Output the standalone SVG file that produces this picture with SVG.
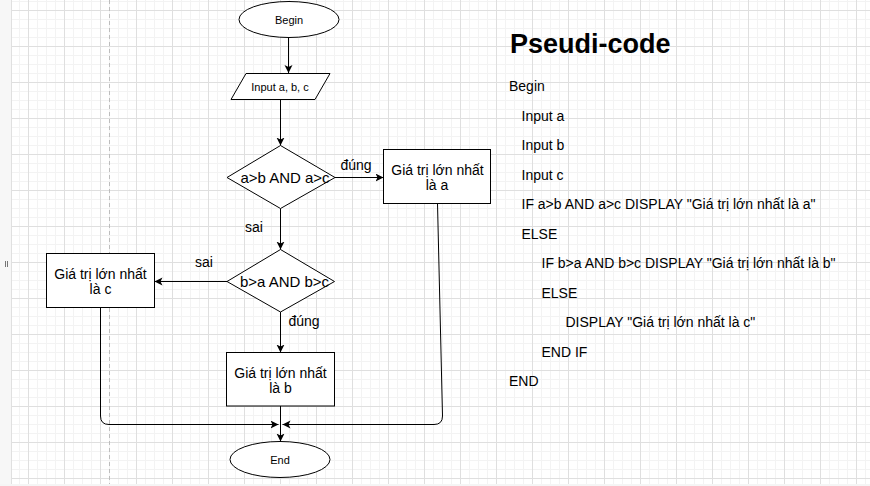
<svg xmlns="http://www.w3.org/2000/svg" width="870" height="486" viewBox="0 0 870 486">
  <style>
    .shape { fill: #ffffff; stroke: #000000; stroke-width: 1; }
    .conn { fill: none; stroke: #000000; stroke-width: 1; }
    .t { font-family: "Liberation Sans", Arial, sans-serif; fill: #000000; }
    .small { font-size: 11px; text-anchor: middle; }
    .box { font-size: 14px; text-anchor: middle; }
    .dia { font-size: 15px; text-anchor: middle; }
    .lbl { font-size: 14px; }
    .code { font-size: 14px; }
    .title { font-size: 27px; font-weight: bold; }
  </style>
  <defs>
    <pattern id="grid" patternUnits="userSpaceOnUse" x="28" y="10" width="36" height="36">
      <path d="M9.5,0 V36 M18.5,0 V36 M27.5,0 V36 M0,9.5 H36 M0,18.5 H36 M0,27.5 H36" stroke="#f3f3f3" stroke-width="1" fill="none"/>
      <path d="M0.5,0 V36 M0,0.5 H36" stroke="#dfdfdf" stroke-width="1" fill="none"/>
    </pattern>
    <marker id="arrow" markerUnits="userSpaceOnUse" markerWidth="9" markerHeight="9" refX="8" refY="4" orient="auto">
      <path d="M0,0 L8,4 L0,8 L2,4 Z" fill="#000000"/>
    </marker>
  </defs>

  <g id="background">
    <rect x="0" y="0" width="870" height="486" fill="#ffffff"/>
    <rect x="11" y="0" width="859" height="484" fill="url(#grid)"/>
    <rect x="0" y="0" width="11" height="486" fill="#f7f7f7"/>
    <line x1="11.5" y1="0" x2="11.5" y2="484" stroke="#e0e0e0"/>
    <rect x="0" y="484" width="870" height="2" fill="#f5f5f5"/>
    <line x1="109.5" y1="0" x2="109.5" y2="484" stroke="#bdbdbd" stroke-dasharray="4 3"/>
    <rect x="5" y="261" width="1" height="6" fill="#777777"/>
    <rect x="7" y="261" width="1" height="6" fill="#777777"/>
  </g>

  <g id="connectors">
    <path class="conn" d="M288.5,37.5 V73" marker-end="url(#arrow)"/>
    <path class="conn" d="M280.5,99.5 V145.5" marker-end="url(#arrow)"/>
    <path class="conn" d="M335,177.5 H383.5" marker-end="url(#arrow)"/>
    <path class="conn" d="M280.5,208.5 V249.5" marker-end="url(#arrow)"/>
    <path class="conn" d="M227,281.5 H154.5" marker-end="url(#arrow)"/>
    <path class="conn" d="M280.5,312 V352.5" marker-end="url(#arrow)"/>
    <path class="conn" d="M100.5,307.5 V416 Q100.5,424.5 109,424.5 H278.5" marker-end="url(#arrow)"/>
    <path class="conn" d="M437.5,203.5 L442.5,416 Q442.5,424.5 434,424.5 H282.5" marker-end="url(#arrow)"/>
    <path class="conn" d="M280.5,406 V441.5" marker-end="url(#arrow)"/>
  </g>

  <g id="begin">
    <ellipse class="shape" cx="289" cy="19.5" rx="50" ry="18"/>
    <text class="t small" x="289" y="23.5">Begin</text>
  </g>
  <g id="input">
    <polygon class="shape" points="246,73.5 330,73.5 315,99.5 231,99.5"/>
    <text class="t small" x="280" y="91">Input a, b, c</text>
  </g>
  <g id="decision1">
    <polygon class="shape" points="227,177.5 280.5,145.5 335,177.5 280.5,208.5"/>
    <text class="t dia" x="285" y="183">a&gt;b AND a&gt;c</text>
  </g>
  <g id="result-a">
    <rect class="shape" x="383.5" y="149.5" width="107" height="54"/>
    <text class="t box" x="437.5" y="175">Giá trị lớn nhất</text>
    <text class="t box" x="437" y="190">là a</text>
  </g>
  <g id="decision2">
    <polygon class="shape" points="227,281.5 280.5,249.5 334.5,281.5 280.5,312"/>
    <text class="t dia" x="284.5" y="286.5">b&gt;a AND b&gt;c</text>
  </g>
  <g id="result-c">
    <rect class="shape" x="46.5" y="253.5" width="108" height="54"/>
    <text class="t box" x="100.5" y="279">Giá trị lớn nhất</text>
    <text class="t box" x="100.5" y="294">là c</text>
  </g>
  <g id="result-b">
    <rect class="shape" x="226.5" y="352.5" width="108" height="53.5"/>
    <text class="t box" x="280.5" y="378">Giá trị lớn nhất</text>
    <text class="t box" x="280.5" y="393">là b</text>
  </g>
  <g id="end">
    <ellipse class="shape" cx="280" cy="459.5" rx="50" ry="18"/>
    <text class="t small" x="280" y="463.5">End</text>
  </g>

  <g id="labels">
    <text class="t lbl" x="340.5" y="169.5">đúng</text>
    <text class="t lbl" x="245" y="231.5">sai</text>
    <text class="t lbl" x="195" y="267">sai</text>
    <text class="t lbl" x="288.5" y="326">đúng</text>
  </g>

  <g id="pseudocode">
    <text class="t title" x="510" y="53">Pseudi-code</text>
    <text class="t code" x="509" y="91">Begin</text>
    <text class="t code" x="521.5" y="120.5">Input a</text>
    <text class="t code" x="521.5" y="150">Input b</text>
    <text class="t code" x="521.5" y="179.5">Input c</text>
    <text class="t code" x="521.5" y="209">IF a&gt;b AND a&gt;c DISPLAY "Giá trị lớn nhất là a"</text>
    <text class="t code" x="521.5" y="238.5">ELSE</text>
    <text class="t code" x="541.5" y="268">IF b&gt;a AND b&gt;c DISPLAY "Giá trị lớn nhất là b"</text>
    <text class="t code" x="541.5" y="297.5">ELSE</text>
    <text class="t code" x="565.5" y="327">DISPLAY "Giá trị lớn nhất là c"</text>
    <text class="t code" x="541.5" y="356.5">END IF</text>
    <text class="t code" x="509" y="386">END</text>
  </g>
</svg>
